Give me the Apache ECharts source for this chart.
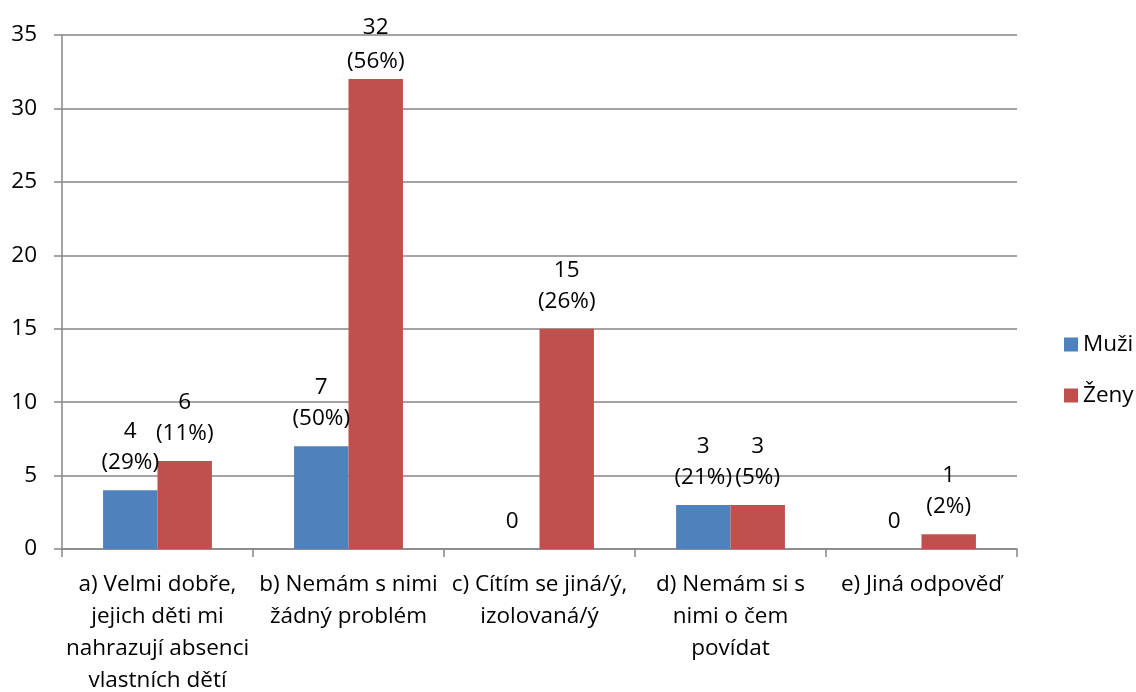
<!DOCTYPE html>
<html>
<head>
<meta charset="utf-8">
<script src="https://cdn.jsdelivr.net/npm/echarts@6/dist/echarts.min.js"></script>
<style>html,body{margin:0;padding:0;background:#fff}#c{width:1136px;height:692px}</style>
</head>
<body>
<div id="c"></div>
<script>
const categories = [
  "a) Velmi dobře,\njejich děti mi\nnahrazují absenci\nvlastních dětí",
  "b) Nemám s nimi\nžádný problém",
  "c) Cítím se jiná/ý,\nizolovaná/ý",
  "d) Nemám si s\nnimi o čem\npovídat",
  "e) Jiná odpověď"
];
const seriesNames = ["Muži", "Ženy"];
const muzi = [4, 7, 0, 3, 0];
const muziPct = ["29%", "50%", "", "21%", ""];
const zeny = [6, 32, 15, 3, 1];
const zenyPct = ["11%", "56%", "26%", "5%", "2%"];
const yTicks = [0, 5, 10, 15, 20, 25, 30, 35];

const font = "'Open Sans', sans-serif";
const fs = 22.5;
function labelFor(pcts) {
  return {
    show: true, position: 'top', distance: 12,
    fontFamily: font, fontSize: fs, color: '#000', lineHeight: 31,
    formatter: p => pcts[p.dataIndex] ? p.value + "\n(" + pcts[p.dataIndex] + ")" : String(p.value)
  };
}
function dataFor(vals) {
  const mx = Math.max(...vals);
  return vals.map(v => v === 32 && v === mx ? { value: v, label: { distance: 0, lineHeight: 34 } } : v);
}
const chart = echarts.init(document.getElementById('c'));
chart.setOption({
  animation: false,
  grid: { left: 62, right: 119, top: 35, bottom: 143, containLabel: false, outerBoundsMode: 'none' },
  legend: {
    orient: 'vertical', left: 1059, top: 328, itemWidth: 14, itemHeight: 14, itemGap: 28,
    icon: 'rect',
    textStyle: { fontFamily: font, fontSize: fs, color: '#000' },
    data: seriesNames
  },
  xAxis: {
    type: 'category', data: categories,
    axisLine: { lineStyle: { color: '#868686', width: 1.5 } },
    axisTick: { show: true, length: 8, lineStyle: { color: '#868686', width: 1.5 } },
    axisLabel: { fontFamily: font, fontSize: fs, color: '#000', lineHeight: 32, margin: 20, interval: 0 }
  },
  yAxis: {
    type: 'value', min: yTicks[0], max: yTicks[yTicks.length - 1], interval: 5,
    axisLine: { show: true, lineStyle: { color: '#868686', width: 1.5 } },
    axisTick: { show: true, length: 8, lineStyle: { color: '#868686', width: 1.5 } },
    splitLine: { lineStyle: { color: '#868686', width: 1.5 } },
    axisLabel: { fontFamily: font, fontSize: fs, color: '#000', margin: 25 }
  },
  series: [
    { name: seriesNames[0], type: 'bar', data: dataFor(muzi), barGap: '0%', barCategoryGap: '43%',
      itemStyle: { color: '#4f81bd' }, label: labelFor(muziPct) },
    { name: seriesNames[1], type: 'bar', data: dataFor(zeny), barGap: '0%', barCategoryGap: '43%',
      itemStyle: { color: '#c0504d' }, label: labelFor(zenyPct) }
  ]
});
</script>
</body>
</html>
